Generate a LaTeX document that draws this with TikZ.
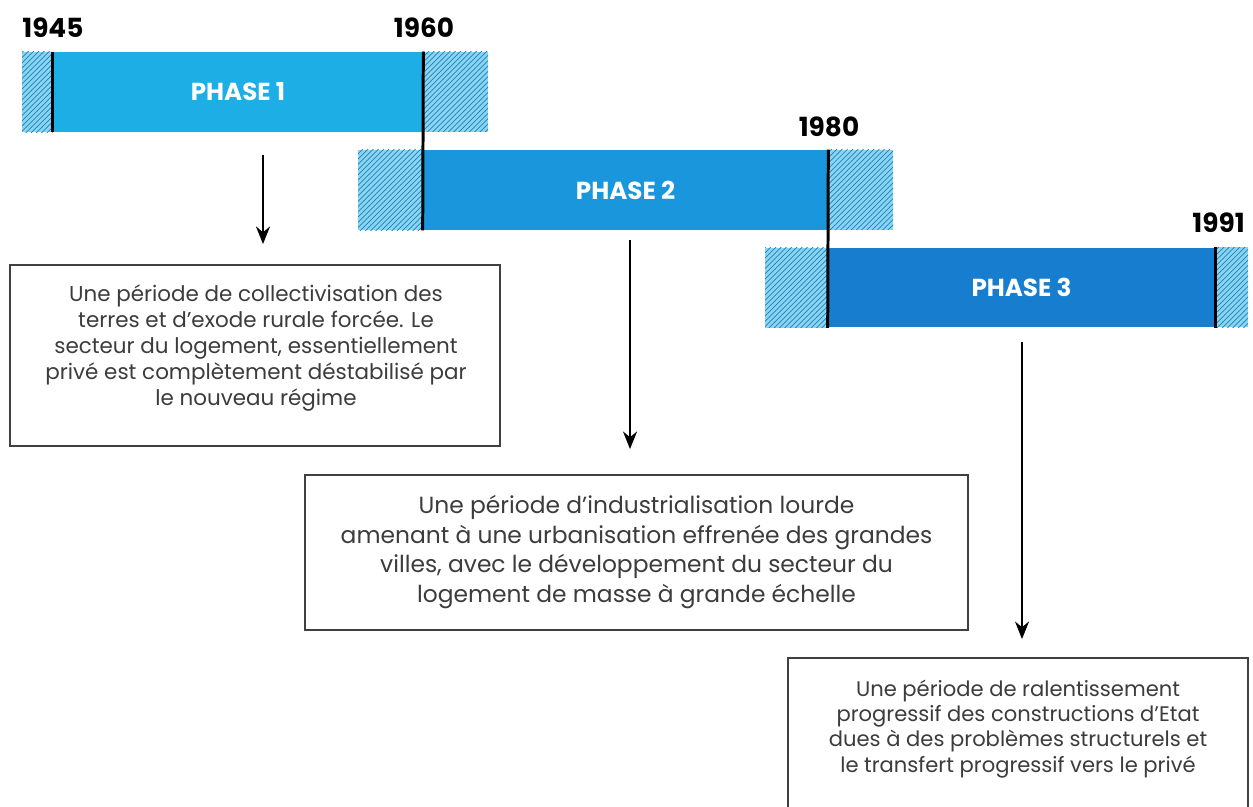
\documentclass[tikz,border=0pt]{standalone}
\usepackage{fontspec}
\setmainfont{Poppins}
\usetikzlibrary{arrows.meta,positioning,patterns}

\definecolor{phaseone}{HTML}{1DAEE6}
\definecolor{phasetwo}{HTML}{1A97DC}
\definecolor{phasethree}{HTML}{177ECF}
\definecolor{hatchbg}{HTML}{8AD6F0}
\definecolor{hatchline}{HTML}{1C7FC0}
\definecolor{boxtext}{HTML}{3C3C3C}

\begin{document}
\begin{tikzpicture}[x=0.02cm,y=-0.02cm,
	phase/.style={fill=#1, text=white, font=\bfseries\fontsize{14}{16}\selectfont, minimum height=1.6cm, inner sep=0},
	hatch/.style={fill=hatchbg, postaction={pattern=north east lines, pattern color=hatchline}},
	limit/.style={line width=1.7pt, black},
	year/.style={font=\bfseries\fontsize{15}{18}\selectfont, inner sep=0},
	descbox/.style={draw=black!75, line width=1.1pt, fill=white},
	desctext/.style={align=center, text=boxtext},
	arr/.style={-{Stealth[length=10pt,width=8pt]}, line width=1pt}]
	\clip (0,0) rectangle (1253,807);
	
	% Phases
	\node[phase=phaseone, minimum width=7.4cm] (p1) at (238,92) {PHASE 1};
	\node[phase=phasetwo, minimum width=8.1cm] (p2) at (625.5,190) {PHASE 2};
	\node[phase=phasethree, minimum width=7.74cm] (p3) at (1021.5,287.5) {PHASE 3};
	
	% Hatched margins
	\path[hatch] (22,52) rectangle (p1.south west);
	\path[hatch] (p1.north east) rectangle (488,132);
	\path[hatch] (358,150) rectangle (p2.south west);
	\path[hatch] (p2.north east) rectangle (893,230);
	\path[hatch] (765,248) rectangle (p3.south west);
	\path[hatch] (p3.north east) rectangle (1248,327);
	
	% Limits
	\draw[limit] (p1.north west) -- (p1.south west);
	\draw[limit] (p1.north east) -- (p2.south west);
	\draw[limit] (p2.north east) -- (p3.south west);
	\draw[limit] (p3.north east) -- (p3.south east);
	
	% Years
	\node[year, anchor=base west] (y1945) at (22,38) {1945};
	\node[year, anchor=base] (y1960) at (424,38) {1960};
	\node[year, anchor=base] (y1980) at (829,137) {1980};
	\node[year, anchor=base east] (y1991) at (1245,233) {1991};
	
	% Descriptions
	\node[descbox, minimum width=9.8cm, minimum height=3.62cm] (b1) at (255,355.5) {};
	\node[desctext, font=\fontsize{12.2}{14.8}\selectfont] (t1) at (256,348) {Une période de collectivisation des\\terres et d’exode rurale forcée. Le\\secteur du logement, essentiellement\\privé est complètement déstabilisé par\\le nouveau régime};
	
	\node[descbox, minimum width=13.26cm, minimum height=3.1cm] (b2) at (636.5,552.5) {};
	\node[desctext, font=\fontsize{13.3}{17}\selectfont] (t2) at (636.5,552) {Une période d’industrialisation lourde\\amenant à une urbanisation effrenée des grandes\\villes, avec le développement du secteur du\\logement de masse à grande échelle};
	
	\node[descbox, minimum width=9.2cm, minimum height=3.4cm] (b3) at (1018,743) {};
	\node[desctext, font=\fontsize{12}{14.3}\selectfont] (t3) at (1018,729) {Une période de ralentissement\\progressif des constructions d’Etat\\dues à des problèmes structurels et\\le transfert progressif vers le privé};
	
	% Arrows
	\coordinate (a1) at (263,0);
	\coordinate (a2) at (630,0);
	\coordinate (a3) at (1022,0);
	\draw[arr, shorten <=0.46cm, shorten >=0.4cm] (p1.south -| a1) -- (b1.north -| a1);
	\draw[arr, shorten <=0.2cm, shorten >=0.5cm] (p2.south -| a2) -- (b2.north -| a2);
	\draw[arr, shorten <=0.29cm, shorten >=0.36cm] (p3.south -| a3) -- (b3.north -| a3);
\end{tikzpicture}
\end{document}
